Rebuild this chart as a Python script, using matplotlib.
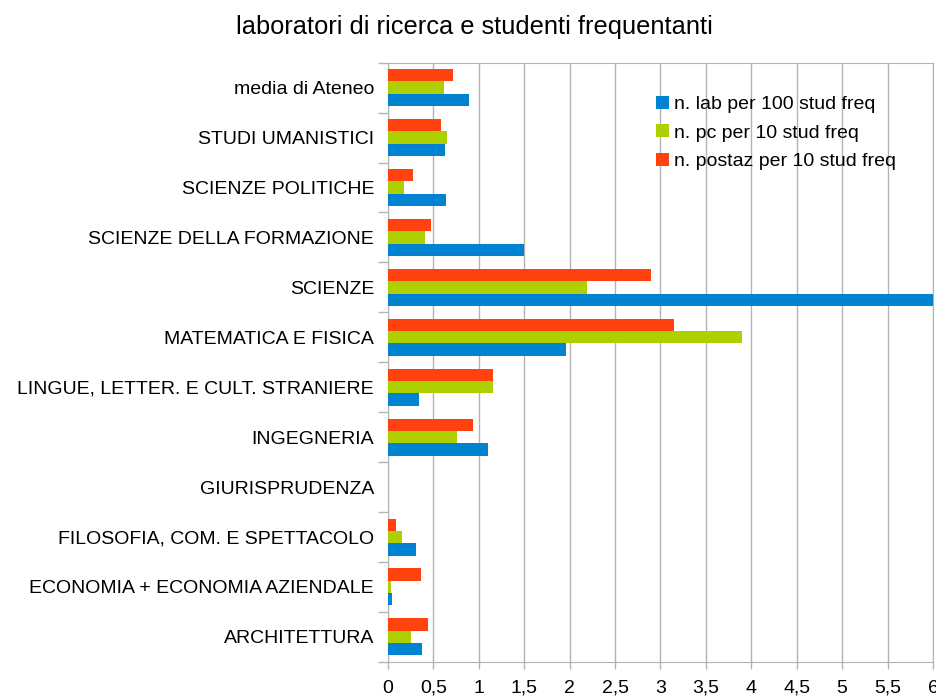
import matplotlib.pyplot as plt
import numpy as np

plt.rcParams["font.family"] = ["Liberation Sans", "DejaVu Sans"]

# bottom to top, as drawn
categories = [
    "ARCHITETTURA",
    "ECONOMIA + ECONOMIA AZIENDALE",
    "FILOSOFIA, COM. E SPETTACOLO",
    "GIURISPRUDENZA",
    "INGEGNERIA",
    "LINGUE, LETTER. E CULT. STRANIERE",
    "MATEMATICA E FISICA",
    "SCIENZE",
    "SCIENZE DELLA FORMAZIONE",
    "SCIENZE POLITICHE",
    "STUDI UMANISTICI",
    "media di Ateneo",
]
lab_100 = [0.37, 0.045, 0.31, 0, 1.10, 0.34, 1.96, 6.2, 1.50, 0.64, 0.63, 0.89]
pc_10 = [0.25, 0.03, 0.155, 0, 0.76, 1.16, 3.90, 2.19, 0.41, 0.18, 0.65, 0.62]
postaz_10 = [0.445, 0.36, 0.09, 0, 0.94, 1.16, 3.15, 2.90, 0.47, 0.275, 0.58, 0.72]

series_names = [
    "n. lab per 100 stud freq",
    "n. pc per 10 stud freq",
    "n. postaz per 10 stud freq",
]
colors = ["#0084D1", "#AECF00", "#FF420E"]
xticks = np.arange(0, 6.01, 0.5)
xtick_labels = ["0", "0,5", "1", "1,5", "2", "2,5", "3", "3,5", "4", "4,5", "5", "5,5", "6"]

fig = plt.figure(figsize=(9.37, 6.96), dpi=100)
ax = fig.add_axes([0.414, 0.049, 0.5817, 0.861])

y = np.arange(len(categories))
h = 0.247
for i, (vals, name, col) in enumerate(zip([lab_100, pc_10, postaz_10], series_names, colors)):
    ax.barh(y + (i - 1) * h, vals, height=h, color=col, label=name, zorder=3)

grid_col = "#b3b3b3"
ax.set_xlim(0, 6)
ax.set_ylim(-0.5, len(categories) - 0.5)
ax.set_xticks(xticks)
ax.set_xticklabels(xtick_labels, fontsize=14)
ax.set_yticks(y)
ax.set_yticklabels(categories, fontsize=14)
ax.tick_params(axis="y", length=0, pad=10)
ax.set_yticks(np.arange(-0.5, len(categories), 1), minor=True)
ax.tick_params(axis="y", which="minor", length=7, color=grid_col, width=1)
ax.tick_params(axis="x", length=5, color=grid_col, width=1, pad=8)

ax.grid(axis="x", color=grid_col, linewidth=1, zorder=0)
for s in ax.spines.values():
    s.set_color(grid_col)

ax.legend(loc="upper left", bbox_to_anchor=(0.492, 0.945), frameon=False, fontsize=14,
          borderpad=0, borderaxespad=0, handlelength=0.67, handleheight=0.65,
          labelspacing=0.58, handletextpad=0.25)

fig.suptitle("laboratori di ricerca e studenti frequentanti", x=0.506, y=0.978, fontsize=18.3)

fig.savefig("out.png", dpi=100)
